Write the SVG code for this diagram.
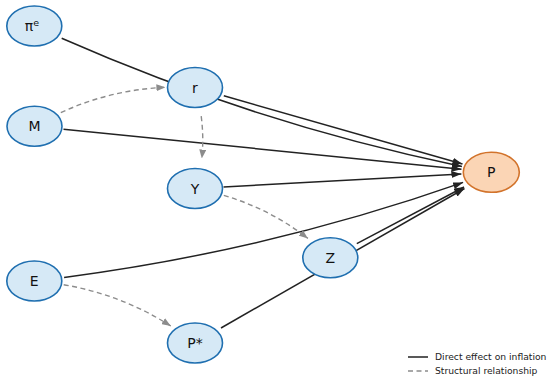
<svg xmlns="http://www.w3.org/2000/svg" width="550" height="381" viewBox="0 0 550 381">
<style>
.node ellipse{fill:#d6e9f6;stroke:#1f6fb0;stroke-width:1.6}
#P ellipse{fill:#fbd5b5;stroke:#d2732b}
.node text{font-family:"DejaVu Sans",sans-serif;font-size:14px;fill:#111;text-anchor:middle}
.solid{fill:none;stroke:#222;stroke-width:1.5}
.dash{fill:none;stroke:#8c8c8c;stroke-width:1.4;stroke-dasharray:5,3.5}
.leg{font-family:"DejaVu Sans",sans-serif;font-size:9.2px;fill:#222}
</style>
<defs>
<marker id="ah" viewBox="0 0 10 7" refX="10" refY="3.5" markerWidth="10" markerHeight="7" markerUnits="userSpaceOnUse" orient="auto"><path d="M0,0 L10,3.5 L0,7 z" fill="#222"/></marker>
<marker id="ag" viewBox="0 0 9 7" refX="9" refY="3.5" markerWidth="9" markerHeight="7" markerUnits="userSpaceOnUse" orient="auto"><path d="M0,0 L9,3.5 L0,7 z" fill="#8c8c8c"/></marker>
</defs>
<rect width="550" height="381" fill="#fff"/>
<g id="connectors">
<path class="solid" d="M61.7,38.3 Q255.0,123.4 461.9,166.4" marker-end="url(#ah)"/>
<path class="solid" d="M223.8,95.8 L462.5,164.0" marker-end="url(#ah)"/>
<path class="solid" d="M63.5,129.2 L461.5,169.3" marker-end="url(#ah)"/>
<path class="solid" d="M223.5,187.0 L461.4,173.9" marker-end="url(#ah)"/>
<path class="solid" d="M64.1,277.4 Q268.6,250.8 463.1,182.4" marker-end="url(#ah)"/>
<path class="solid" d="M356.8,243.6 L464.0,187.0" marker-end="url(#ah)"/>
<path class="solid" d="M221.0,328.0 L464.5,188.5" marker-end="url(#ah)"/>
<path class="dash" d="M60.8,112.6 Q110.6,89.7 165.4,87.3" marker-end="url(#ag)"/>
<path class="dash" d="M201.2,116.2 Q204,138 201.8,158.5" marker-end="url(#ag)"/>
<path class="dash" d="M223.8,195.4 Q269.9,209 307.9,238.4" marker-end="url(#ag)"/>
<path class="dash" d="M63.7,284.7 Q121.4,294.6 170.8,326" marker-end="url(#ag)"/>
</g>
<g id="pie" class="node"><ellipse cx="34.3" cy="26" rx="27.5" ry="20"/><text x="32" y="31">π<tspan font-size="9.5" dy="-5.5">e</tspan></text></g>
<g id="M" class="node"><ellipse cx="34.5" cy="126.3" rx="27.5" ry="20"/><text x="34.5" y="131.3">M</text></g>
<g id="r" class="node"><ellipse cx="195" cy="87.5" rx="27.5" ry="20"/><text x="195" y="92.5">r</text></g>
<g id="Y" class="node"><ellipse cx="195" cy="188.5" rx="27.5" ry="20"/><text x="195" y="193.5">Y</text></g>
<g id="Z" class="node"><ellipse cx="330.3" cy="257.7" rx="27.5" ry="20"/><text x="330.3" y="262.7">Z</text></g>
<g id="E" class="node"><ellipse cx="34.3" cy="281" rx="27.5" ry="20"/><text x="34.3" y="286">E</text></g>
<g id="Pstar" class="node"><ellipse cx="195" cy="343" rx="27.5" ry="20"/><text x="195" y="348">P*</text></g>
<g id="P" class="node"><ellipse cx="491.3" cy="172.3" rx="28" ry="20"/><text x="491.3" y="177.3">P</text></g>
<g id="legend">
<line x1="408" y1="357" x2="428" y2="357" stroke="#222" stroke-width="1.5"/>
<text class="leg" x="435" y="360.3">Direct effect on inflation</text>
<line x1="408" y1="371" x2="428" y2="371" stroke="#8c8c8c" stroke-width="1.4" stroke-dasharray="5,3.5"/>
<text class="leg" x="435" y="374.3">Structural relationship</text>
</g>
</svg>
